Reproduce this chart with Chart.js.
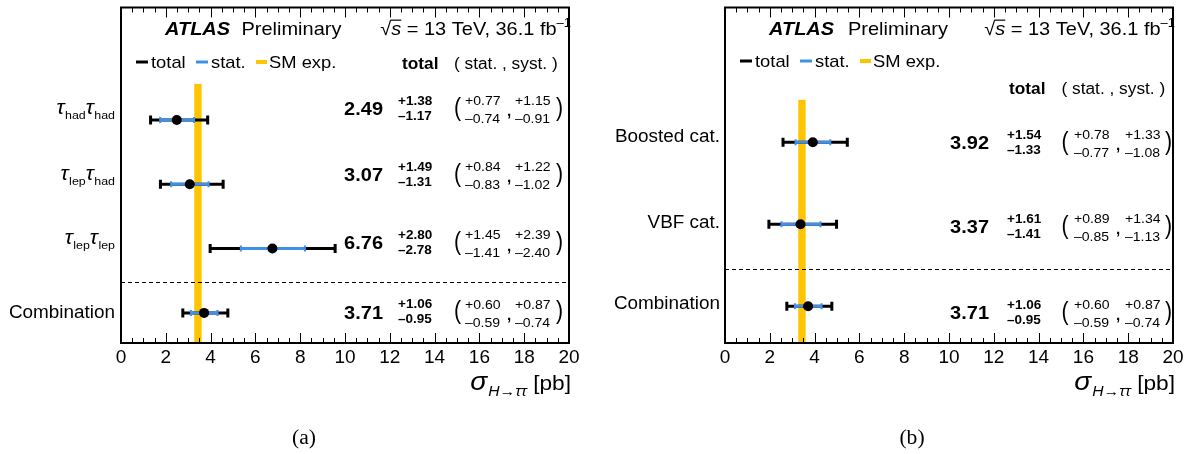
<!DOCTYPE html>
<html><head><meta charset="utf-8">
<script src="https://cdn.jsdelivr.net/npm/chart.js@4.4.1/dist/chart.umd.min.js"></script>
<style>
html,body{margin:0;padding:0;background:#fff;}
body{width:1195px;height:454px;position:relative;overflow:hidden;}
canvas{position:absolute;top:0;}
</style></head><body>
<canvas id="ca" width="597" height="454" style="left:0px"></canvas>
<canvas id="cb" width="591" height="454" style="left:604px"></canvas>
<script>
// ---------------- data ----------------
const xMin = 0, xMax = 20, xStep = 2, xMinorStep = 0.5;
const smLow = 3.27, smHigh = 3.60;          // SM expectation band [pb]

const catsA   = ['τ_had τ_had', 'τ_lep τ_had', 'τ_lep τ_lep', 'Combination'];
const valA    = [2.49, 3.07, 6.76, 3.71];
const totUpA  = [1.38, 1.49, 2.80, 1.06];
const totDnA  = [1.17, 1.31, 2.78, 0.95];
const statUpA = [0.77, 0.84, 1.45, 0.60];
const statDnA = [0.74, 0.83, 1.41, 0.59];
const systUpA = [1.15, 1.22, 2.39, 0.87];
const systDnA = [0.91, 1.02, 2.40, 0.74];

const catsB   = ['Boosted cat.', 'VBF cat.', 'Combination'];
const valB    = [3.92, 3.37, 3.71];
const totUpB  = [1.54, 1.61, 1.06];
const totDnB  = [1.33, 1.41, 0.95];
const statUpB = [0.78, 0.89, 0.60];
const statDnB = [0.77, 0.85, 0.59];
const systUpB = [1.33, 1.34, 0.87];
const systDnB = [1.08, 1.13, 0.74];

// ---------------- style ----------------
const BLUE = '#3f90e6', YEL = '#fdc500', BLACK = '#000';
const SX = 1.08;
const FF = '"Liberation Sans", Arial, Helvetica, sans-serif';
const FS = '"Liberation Serif", "Times New Roman", serif';
function font(size, w, it, fam){ return (it?'italic ':'') + (w||'normal') + ' ' + size + 'px ' + (fam||FF); }
function runs(ctx, segs, x, base, align){
  let tot = 0;
  const ws = segs.map(s => { ctx.font = font(s.size, s.w, s.i, s.f); const w = ctx.measureText(s.t).width*(s.sx||SX) + (s.gap||0); tot += w; return w; });
  let cx = align==='right' ? x-tot : align==='center' ? x-tot/2 : x;
  const xs = [];
  segs.forEach((s,k) => {
    ctx.save(); ctx.font = font(s.size, s.w, s.i, s.f); ctx.fillStyle = s.c||BLACK;
    ctx.textBaseline = 'alphabetic'; ctx.textAlign = 'left';
    ctx.translate(cx + (s.gap||0), base + (s.dy||0)); ctx.scale(s.sx||SX,1); ctx.fillText(s.t,0,0); ctx.restore();
    xs.push(cx + (s.gap||0)); cx += ws[k];
  });
  return {xs, ws, end:cx};
}
function text(ctx, t, x, yc, size, w, it, align){ return runs(ctx, [{t, size, w, i:it}], x, yc + 0.36*size, align); }
function labelSegs(lbl){
  if (!lbl.includes('_')) return [{t:lbl, size:17.5}];
  const segs = [];
  lbl.split(' ').forEach(tok => { const [b,s] = tok.split('_'); segs.push({t:b, size:20, i:true}); segs.push({t:s, size:11.5, dy:5, gap:0.5}); });
  return segs;
}
const fP = v => '+' + v.toFixed(2);
const fM = v => '\u2013' + v.toFixed(2);

function buildDatasets(vals, tu, td, su, sd){
  const ds = [];
  ds.push({label:'central', data: vals.map((v,i)=>({x:v, y:i})), showLine:false, pointStyle:'circle',
    pointRadius:5, pointHoverRadius:5, pointBackgroundColor:BLACK, pointBorderColor:BLACK, pointBorderWidth:0, order:0});
  ds.push({label:'stat caps', data: vals.flatMap((v,i)=>[{x:v-sd[i], y:i},{x:v+su[i], y:i}]), showLine:false, pointStyle:'line',
    pointRotation:90, pointRadius:3, pointHoverRadius:3, pointBorderWidth:2, pointBorderColor:BLUE, order:1});
  vals.forEach((v,i) => ds.push({label:'stat', data:[{x:v-sd[i], y:i},{x:v+su[i], y:i}], showLine:true,
    borderColor:BLUE, borderWidth:3, pointRadius:0, pointHoverRadius:0, order:2}));
  ds.push({label:'total caps', data: vals.flatMap((v,i)=>[{x:v-td[i], y:i},{x:v+tu[i], y:i}]), showLine:false, pointStyle:'line',
    pointRotation:90, pointRadius:4.5, pointHoverRadius:4.5, pointBorderWidth:3, pointBorderColor:BLACK, order:3});
  vals.forEach((v,i) => ds.push({label:'total', data:[{x:v-td[i], y:i},{x:v+tu[i], y:i}], showLine:true,
    borderColor:BLACK, borderWidth:3, pointRadius:0, pointHoverRadius:0, order:4}));
  return ds;
}

function panelPlugin(P){
  return {
    id: 'panel' + P.tag,
    beforeDatasetsDraw(chart){
      const {ctx, chartArea:a, scales:{x, y}} = chart;
      const x0 = x.getPixelForValue(smLow), x1 = x.getPixelForValue(smHigh), yt = y.getPixelForValue(P.bandTop);
      ctx.save(); ctx.fillStyle = YEL; ctx.fillRect(x0, yt, x1-x0, a.bottom-yt); ctx.restore();
    },
    afterDraw(chart){
      const {ctx, chartArea:a, scales:{x, y}} = chart;
      ctx.save();
      // frame
      ctx.strokeStyle = BLACK; ctx.lineWidth = 2;
      ctx.strokeRect(a.left, a.top, a.right-a.left, a.bottom-a.top);
      // ticks (inward, top and bottom)
      ctx.lineWidth = 1;
      for (let v = xMin; v <= xMax + 1e-9; v += xMinorStep){
        const px = Math.round(x.getPixelForValue(v)) + 0.5;
        const len = (Math.abs(v/xStep - Math.round(v/xStep)) < 1e-6) ? 10 : 5;
        ctx.beginPath(); ctx.moveTo(px, a.bottom); ctx.lineTo(px, a.bottom-len);
        ctx.moveTo(px, a.top); ctx.lineTo(px, a.top+len); ctx.stroke();
      }
      // separator
      const ys = Math.round(y.getPixelForValue(P.sep)) + 0.5;
      ctx.setLineDash([4,3]); ctx.lineWidth = 1.2;
      ctx.beginPath(); ctx.moveTo(a.left, ys); ctx.lineTo(a.right, ys); ctx.stroke();
      ctx.setLineDash([]);
      // header
      const hb = P.titleY + 0.36*18.5;
      runs(ctx, [{t:'ATLAS', size:18.5, w:'bold', i:true}], 165, hb, 'left');
      runs(ctx, [{t:'Preliminary', size:18.5}], P.prelimX, hb, 'left');
      const r = runs(ctx, [{t:'\u221A', size:18.5}, {t:'s', size:18.5, i:true}, {t:' = 13 TeV, 36.1 fb', size:18.5}, {t:'\u20131', size:12, dy:-8}], 571, hb, 'right');
      ctx.lineWidth = 1.2; ctx.beginPath(); ctx.moveTo(r.xs[1]-1, hb-14.5); ctx.lineTo(r.xs[1]+r.ws[1], hb-14.5); ctx.stroke();
      // legend
      const ly = P.legY;
      ctx.lineWidth = 3; ctx.strokeStyle = BLACK; ctx.beginPath(); ctx.moveTo(136, ly); ctx.lineTo(148, ly); ctx.stroke();
      text(ctx, 'total', 151, ly, 17);
      ctx.strokeStyle = BLUE; ctx.beginPath(); ctx.moveTo(196, ly); ctx.lineTo(208, ly); ctx.stroke();
      text(ctx, 'stat.', 211, ly, 17);
      ctx.strokeStyle = YEL; ctx.lineWidth = 4; ctx.beginPath(); ctx.moveTo(256, ly); ctx.lineTo(267, ly); ctx.stroke();
      text(ctx, 'SM exp.', 269, ly, 17);
      // table header
      text(ctx, 'total', P.hTotX, P.hdrY, 16, 'bold');
      text(ctx, '( stat. , syst. )', P.hStatX, P.hdrY, 16);
      // rows
      P.cats.forEach((lbl, i) => {
        const yp = y.getPixelForValue(i);
        const yl = yp + P.labOff[i];
        const isTau = lbl.includes('_');
        runs(ctx, labelSegs(lbl), P.labRight, isTau ? yl + 4 : yl + 0.36*17.5, 'right');
        const yc = yp + P.numOff[i];
        text(ctx, P.vals[i].toFixed(2), P.mainRight, yc, 18.5, 'bold', false, 'right');
        text(ctx, fP(P.tu[i]), P.totX, yc-8, 12.5, 'bold');
        text(ctx, fM(P.td[i]), P.totX, yc+7, 12.5, 'bold');
        runs(ctx, [{t:'(', size:25, sx:0.85}], P.lpX, yc+1+0.26*25, 'left');
        text(ctx, fP(P.su[i]), P.statX, yc-8, 13);
        text(ctx, fM(P.sd[i]), P.statX, yc+10, 13);
        text(ctx, ',', P.commaX, yc+3, 14, 'bold');
        text(ctx, fP(P.yu[i]), P.systX, yc-8, 13);
        text(ctx, fM(P.yd[i]), P.systX, yc+10, 13);
        runs(ctx, [{t:')', size:25, sx:0.85}], P.rpX, yc+1+0.26*25, 'left');
      });
      // axis title
      runs(ctx, [{t:'\u03C3', size:26, i:true}, {t:'H\u2192\u03C4\u03C4', size:14.5, i:true, dy:6, gap:1}, {t:' [pb]', size:21}], 571, 390, 'right');
      // caption
      runs(ctx, [{t:P.caption, size:20, f:FS}], P.capX, 438 + 0.3*20, 'center');
      ctx.restore();
    }
  };
}

function makeChart(id, P){
  const W = document.getElementById(id).width;
  return new Chart(document.getElementById(id), {
    type: 'scatter',
    data: { datasets: buildDatasets(P.vals, P.tu, P.td, P.su, P.sd) },
    options: {
      responsive:false, animation:false, devicePixelRatio:1, events:[],
      layout:{ padding:{ left:121, right:W-569, top:5, bottom:81 } },
      plugins:{ legend:{display:false}, tooltip:{enabled:false} },
      scales:{
        x:{ type:'linear', min:xMin, max:xMax, afterFit(s){ s.height = 30; },
            grid:{display:false, drawTicks:false}, border:{display:false},
            ticks:{ stepSize:xStep, autoSkip:false, maxRotation:0, padding:3, color:BLACK,
                    font:{family:'"Liberation Sans", Arial, sans-serif', size:19} } },
        y:{ type:'linear', reverse:true, min:P.yMin, max:P.yMax, display:false }
      }
    },
    plugins:[panelPlugin(P)]
  });
}

makeChart('ca', {
  tag:'A', cats:catsA, vals:valA, tu:totUpA, td:totDnA, su:statUpA, sd:statDnA, yu:systUpA, yd:systDnA,
  yMin:-1.748, yMax:3.468, bandTop:-0.56, sep:2.527,
  labOff:[-10,-8,-9,-1], numOff:[-11.5,-10,-6,-1],
  titleY:28, prelimX:241.5, legY:62, hdrY:63, hTotX:402, hStatX:454,
  labRight:115, mainRight:383, totX:398, lpX:454, statX:465, commaX:507, systX:515, rpX:556,
  caption:'(a)', capX:304
});
makeChart('cb', {
  tag:'B', cats:catsB, vals:valB, tu:totUpB, td:totDnB, su:statUpB, sd:statDnB, yu:systUpB, yd:systDnB,
  yMin:-1.642, yMax:2.447, bandTop:-0.517, sep:1.54,
  labOff:[-7,-3,-4], numOff:[0,2,6],
  titleY:28, prelimX:244, legY:61, hdrY:88, hTotX:405, hStatX:457.5,
  labRight:116, mainRight:385, totX:403, lpX:457.5, statX:470, commaX:512, systX:521, rpX:561,
  caption:'(b)', capX:308
});
</script>
</body></html>
